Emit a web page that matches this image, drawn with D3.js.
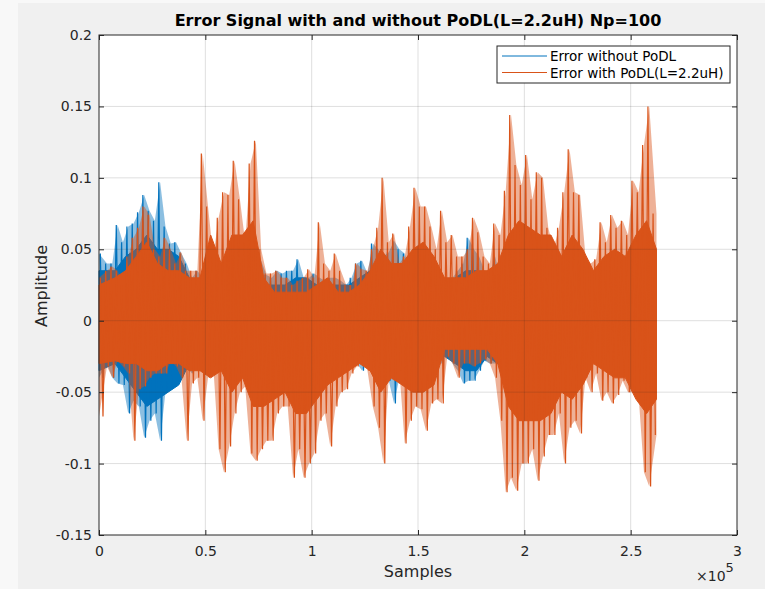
<!DOCTYPE html>
<html><head><meta charset="utf-8">
<script src="https://cdn.jsdelivr.net/npm/d3@7"></script>
<style>html,body{margin:0;padding:0;background:#f8f8f8;} svg{display:block;}</style>
</head><body><svg id="chart" width="765" height="589"></svg>
<script>
// ---- data ----
const totalSamples = 262144;
const binSize = 2500;     // peak (min/max) envelope block
const coreSize = 5000;    // dense-band block
const xTickValues = [0, 50000, 100000, 150000, 200000, 250000, 300000];
const xTickLabels = ["0", "0.5", "1", "1.5", "2", "2.5", "3"];
const yTickValues = [-0.15, -0.1, -0.05, 0, 0.05, 0.1, 0.15, 0.2];
const yTickLabels = ["-0.15", "-0.1", "-0.05", "0", "0.05", "0.1", "0.15", "0.2"];
const seriesNames = ["Error without PoDL", "Error with PoDL(L=2.2uH)"];
const seriesColors = ["#0072BD", "#D95319"];

// peak envelope, without PoDL (per 2500 samples)
const noPodlHigh = [0.047,0.04,0.04,0.067,0.055,0.066,0.068,0.076,0.088,0.077,0.07,0.097,0.066,0.054,0.055,0.047,0.04,0.03,0.035,0.03,
0.045,0.035,0.035,0.03,0.03,0.03,0.03,0.03,0.03,0.03,0.042,0.032,0.03,0.035,0.033,0.035,0.035,0.043,0.03,0.03,
0.033,0.03,0.028,0.03,0.03,0.028,0.025,0.03,0.04,0.042,0.033,0.054,0.05,0.045,0.048,0.056,0.05,0.047,0.035,0.03,
0.03,0.03,0.03,0.03,0.03,0.03,0.03,0.035,0.04,0.058,0.05,0.045,0.035,0.032,0.045,0.03,0.03,0.03,0.03,0.03,
0.03,0.03,0.03,0.03,0.03,0.04,0.04,0.03,0.03,0.03,0.04,0.03,0.03,0.03,0.035,0.03,0.03,0.03,0.03,0.03,
0.042,0.03,0.03,0.03,0.042];
const noPodlLow = [-0.04,-0.03,-0.04,-0.044,-0.045,-0.065,-0.056,-0.06,-0.082,-0.07,-0.065,-0.084,-0.05,-0.048,-0.035,-0.038,-0.032,-0.037,-0.032,-0.035,
-0.038,-0.03,-0.03,-0.03,-0.03,-0.03,-0.028,-0.03,-0.03,-0.03,-0.035,-0.03,-0.03,-0.03,-0.03,-0.02,-0.02,-0.02,-0.02,-0.025,
-0.025,-0.03,-0.03,-0.03,-0.03,-0.03,-0.03,-0.03,-0.03,-0.035,-0.028,-0.028,-0.03,-0.035,-0.042,-0.058,-0.04,-0.035,-0.03,-0.03,
-0.03,-0.03,-0.03,-0.03,-0.03,-0.02,-0.03,-0.035,-0.044,-0.042,-0.042,-0.035,-0.028,-0.03,-0.03,-0.03,-0.03,-0.03,-0.03,-0.03,
-0.03,-0.03,-0.03,-0.03,-0.03,-0.03,-0.025,-0.03,-0.03,-0.03,-0.035,-0.03,-0.028,-0.025,-0.03,-0.03,-0.03,-0.03,-0.03,-0.035,
-0.03,-0.03,-0.03,-0.03,-0.03];
// peak envelope, with PoDL (per 2500 samples)
const podlHigh = [0.03,0.035,0.038,0.035,0.025,0.045,0.058,0.065,0.08,0.074,0.05,0.045,0.058,0.05,0.04,0.048,0.035,0.035,0.035,0.117,
0.08,0.045,0.072,0.09,0.088,0.112,0.085,0.055,0.11,0.126,0.05,0.033,0.033,0.035,0.03,0.03,0.025,0.028,0.03,0.036,
0.03,0.069,0.04,0.035,0.047,0.035,0.025,0.025,0.04,0.036,0.035,0.05,0.065,0.1,0.055,0.061,0.04,0.045,0.066,0.093,
0.08,0.08,0.066,0.05,0.077,0.055,0.06,0.045,0.045,0.05,0.072,0.062,0.045,0.04,0.068,0.06,0.091,0.144,0.109,0.095,
0.116,0.085,0.104,0.1,0.065,0.05,0.065,0.09,0.12,0.09,0.088,0.045,0.04,0.043,0.069,0.055,0.074,0.065,0.07,0.06,
0.098,0.09,0.123,0.15,0.075];
const podlLow = [-0.067,-0.032,-0.04,-0.028,-0.032,-0.037,-0.084,-0.048,-0.046,-0.04,-0.037,-0.037,-0.037,-0.028,-0.032,-0.04,-0.084,-0.044,-0.04,-0.07,
-0.04,-0.032,-0.09,-0.106,-0.088,-0.065,-0.05,-0.046,-0.093,-0.098,-0.09,-0.084,-0.084,-0.065,-0.06,-0.06,-0.11,-0.09,-0.11,-0.1,
-0.093,-0.07,-0.065,-0.088,-0.06,-0.05,-0.048,-0.037,-0.032,-0.025,-0.035,-0.06,-0.075,-0.1,-0.04,-0.042,-0.035,-0.086,-0.07,-0.06,
-0.062,-0.077,-0.058,-0.055,-0.058,-0.025,-0.03,-0.04,-0.03,-0.03,-0.032,-0.03,-0.027,-0.03,-0.04,-0.07,-0.12,-0.11,-0.119,-0.1,
-0.1,-0.09,-0.112,-0.095,-0.08,-0.08,-0.065,-0.1,-0.075,-0.07,-0.079,-0.04,-0.05,-0.037,-0.056,-0.05,-0.058,-0.052,-0.042,-0.05,
-0.05,-0.053,-0.106,-0.116,-0.08];
// dense band (where most samples lie), per 5000 samples
const noPodlCoreHigh = [0.035,0.035,0.045,0.05,0.06,0.05,0.05,0.045,0.03,0.025,0.03,0.03,0.02,0.02,0.02,0.025,0.025,0.025,0.03,0.03,
0.025,0.025,0.025,0.025,0.03,0.035,0.035,0.04,0.035,0.03,0.03,0.03,0.025,0.03,0.035,0.035,0.03,0.035,0.02,0.02,
0.02,0.02,0.025,0.035,0.025,0.025,0.02,0.02,0.025,0.025,0.025,0.03,0.035];
const noPodlCoreLow = [-0.035,-0.03,-0.04,-0.05,-0.06,-0.055,-0.05,-0.045,-0.03,-0.03,-0.03,-0.03,-0.025,-0.025,-0.02,-0.02,-0.02,-0.02,-0.015,-0.015,
-0.02,-0.02,-0.02,-0.02,-0.025,-0.025,-0.03,-0.035,-0.03,-0.03,-0.03,-0.03,-0.025,-0.03,-0.035,-0.035,-0.025,-0.03,-0.02,-0.02,
-0.02,-0.02,-0.02,-0.025,-0.02,-0.02,-0.02,-0.025,-0.025,-0.025,-0.025,-0.025,-0.03];
const podlCoreHigh = [0.025,0.03,0.035,0.045,0.055,0.04,0.035,0.035,0.03,0.03,0.06,0.04,0.06,0.06,0.07,0.03,0.02,0.02,0.02,0.02,
0.025,0.03,0.02,0.02,0.025,0.035,0.05,0.04,0.04,0.05,0.055,0.045,0.03,0.03,0.03,0.035,0.035,0.04,0.06,0.07,
0.065,0.06,0.06,0.045,0.06,0.05,0.035,0.045,0.05,0.045,0.06,0.07,0.05];
const podlCoreLow = [-0.03,-0.028,-0.03,-0.03,-0.035,-0.035,-0.03,-0.03,-0.035,-0.035,-0.04,-0.035,-0.05,-0.04,-0.06,-0.06,-0.055,-0.05,-0.065,-0.065,
-0.055,-0.045,-0.04,-0.035,-0.03,-0.035,-0.05,-0.04,-0.045,-0.05,-0.05,-0.045,-0.02,-0.02,-0.02,-0.02,-0.02,-0.03,-0.06,-0.07,
-0.07,-0.07,-0.065,-0.05,-0.055,-0.045,-0.03,-0.035,-0.04,-0.04,-0.055,-0.065,-0.055];

// ---- chart ----
const svg = d3.select("#chart");
const font = "'DejaVu Sans', sans-serif";
const ink = "#262626";

svg.append("rect").attr("x", 18).attr("y", 3).attr("width", 765 - 18).attr("height", 589 - 3).attr("fill", "#f0f0f0");

const x = d3.scaleLinear().domain([0, 300000]).range([99, 737]);
const y = d3.scaleLinear().domain([-0.15, 0.2]).range([535, 35]);

svg.append("rect").attr("x", 99).attr("y", 35).attr("width", 638).attr("height", 500).attr("fill", "#ffffff");

function blockPoints(hi, lo, size) {
  const n = hi.length;
  return hi.map((h, i) => ({
    s: i === 0 ? 0 : (i === n - 1 ? totalSamples : i * size + size / 2),
    hi: h, lo: lo[i]
  }));
}
// peaks: trace alternating max / min of each block
function peakPoints(hi, lo) {
  const pts = [];
  hi.forEach((h, i) => {
    const s0 = i * binSize;
    const s1 = Math.min((i + 1) * binSize, totalSamples);
    pts.push({ s: s0 + (s1 - s0) * 0.25, v: h });
    pts.push({ s: s0 + (s1 - s0) * 0.75, v: lo[i] });
  });
  return pts;
}
const seriesData = [
  { env: blockPoints(noPodlHigh, noPodlLow, binSize), core: blockPoints(noPodlCoreHigh, noPodlCoreLow, coreSize), peaks: peakPoints(noPodlHigh, noPodlLow) },
  { env: blockPoints(podlHigh, podlLow, binSize), core: blockPoints(podlCoreHigh, podlCoreLow, coreSize), peaks: peakPoints(podlHigh, podlLow) }
];

const area = d3.area().x(d => x(d.s)).y0(d => y(d.lo)).y1(d => y(d.hi)).curve(d3.curveLinear);
const line = d3.line().x(d => x(d.s)).y(d => y(d.v));

const plot = svg.append("g");
seriesData.forEach((sd, k) => {
  // sparse outer samples: faint envelope
  plot.append("path").datum(sd.env).attr("d", area)
    .attr("fill", seriesColors[k]).attr("fill-opacity", 0.45).attr("stroke", "none");
  // dense band
  plot.append("path").datum(sd.core).attr("d", area)
    .attr("fill", seriesColors[k]).attr("stroke", seriesColors[k]).attr("stroke-width", 1);
  // peak samples
  plot.append("path").datum(sd.peaks).attr("d", line)
    .attr("fill", "none").attr("stroke", seriesColors[k]).attr("stroke-width", 1.2).attr("stroke-linejoin", "bevel");
});

// grid on top (MATLAB style translucent)
const grid = svg.append("g").attr("stroke", "rgba(38,38,38,0.15)").attr("stroke-width", 1);
xTickValues.slice(1, -1).forEach(v => grid.append("line").attr("x1", x(v)).attr("x2", x(v)).attr("y1", 35).attr("y2", 535));
yTickValues.slice(1, -1).forEach(v => grid.append("line").attr("x1", 99).attr("x2", 737).attr("y1", y(v)).attr("y2", y(v)));

// axes
function styleAxis(g) {
  g.select(".domain").remove();
  g.selectAll("line").attr("stroke", ink);
  g.selectAll("text").attr("fill", ink).style("font-family", font).style("font-size", "14px");
}
svg.append("g").attr("transform", "translate(0,535)")
  .call(d3.axisBottom(x).tickValues(xTickValues).tickFormat((d, i) => xTickLabels[i]).tickSizeInner(-5).tickSizeOuter(0).tickPadding(11))
  .call(styleAxis);
svg.append("g").attr("transform", "translate(0,35)")
  .call(d3.axisTop(x).tickValues(xTickValues).tickFormat("").tickSizeInner(-5).tickSizeOuter(0))
  .call(styleAxis);
svg.append("g").attr("transform", "translate(99,0)")
  .call(d3.axisLeft(y).tickValues(yTickValues).tickFormat((d, i) => yTickLabels[i]).tickSizeInner(-5).tickSizeOuter(0).tickPadding(7))
  .call(styleAxis);
svg.append("g").attr("transform", "translate(737,0)")
  .call(d3.axisRight(y).tickValues(yTickValues).tickFormat("").tickSizeInner(-5).tickSizeOuter(0))
  .call(styleAxis);

svg.append("rect").attr("x", 99).attr("y", 35).attr("width", 638).attr("height", 500)
  .attr("fill", "none").attr("stroke", ink).attr("stroke-width", 1);

// title and labels
svg.append("text").attr("x", 418).attr("y", 26).attr("text-anchor", "middle")
  .style("font-family", font).style("font-size", "16px").style("font-weight", "bold").attr("fill", "#000")
  .text("Error Signal with and without PoDL(L=2.2uH) Np=100");
svg.append("text").attr("x", 418).attr("y", 577).attr("text-anchor", "middle")
  .style("font-family", font).style("font-size", "16px").attr("fill", ink).text("Samples");
svg.append("text").attr("transform", "translate(47,286) rotate(-90)").attr("text-anchor", "middle")
  .style("font-family", font).style("font-size", "16px").attr("fill", ink).text("Amplitude");
const exp = svg.append("text").attr("x", 696).attr("y", 581)
  .style("font-family", font).style("font-size", "14px").attr("fill", ink);
exp.append("tspan").text("\u00d710");
exp.append("tspan").attr("dy", -9).style("font-size", "13px").text("5");

// legend
const lg = svg.append("g");
lg.append("rect").attr("x", 497).attr("y", 46).attr("width", 233).attr("height", 37)
  .attr("fill", "#fff").attr("stroke", ink).attr("stroke-width", 1);
seriesNames.forEach((name, k) => {
  const yy = 56 + k * 16.5;
  lg.append("line").attr("x1", 502).attr("x2", 547).attr("y1", yy).attr("y2", yy)
    .attr("stroke", seriesColors[k]).attr("stroke-width", 1);
  lg.append("text").attr("x", 550).attr("y", yy + 5)
    .style("font-family", font).style("font-size", "13.5px").attr("fill", "#000").text(name);
});
</script></body></html>
